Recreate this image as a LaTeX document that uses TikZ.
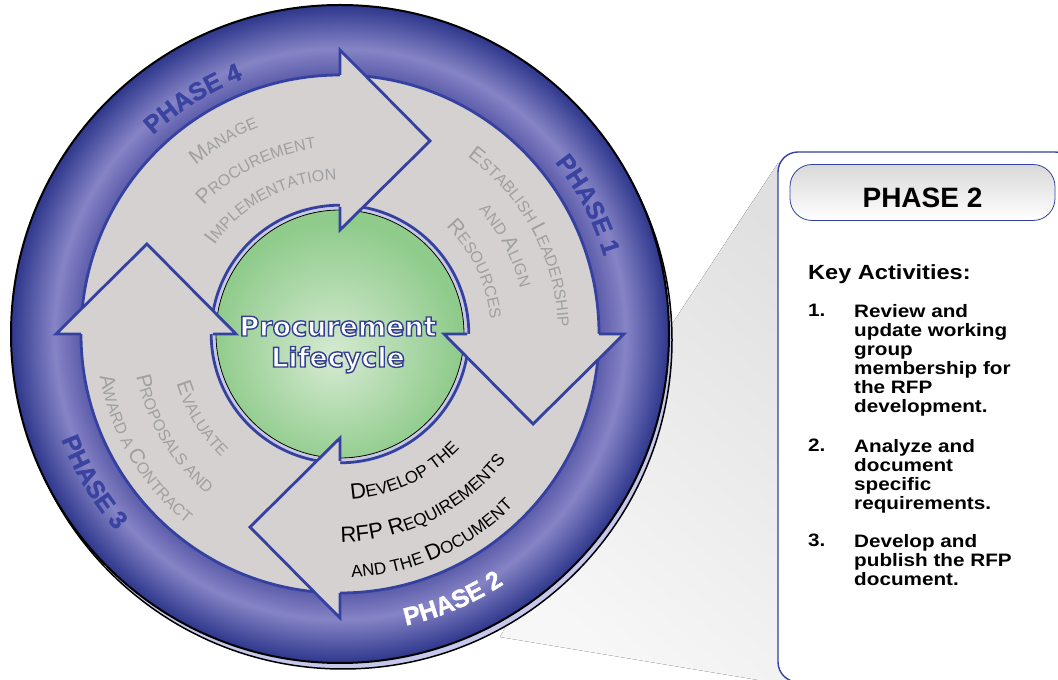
\documentclass[tikz,border=0pt]{standalone}
\usepackage{fontspec}
\setmainfont{Liberation Sans}
\newfontfamily\titlefont{DejaVu Sans}
\newfontfamily\phasebf[FakeBold=1.5]{Liberation Sans Bold}
\newfontfamily\panelfont[FakeStretch=1.15]{Liberation Sans}
\usetikzlibrary{positioning, decorations.text, shadings}

\definecolor{banddark}{RGB}{46,55,140}
\definecolor{bandlight}{RGB}{134,132,198}
\definecolor{bandinner}{RGB}{92,92,170}
\definecolor{ringgray}{RGB}{212,209,208}
\definecolor{ringline}{RGB}{52,65,160}
\definecolor{ringtext}{RGB}{160,160,162}
\definecolor{phaseblue}{RGB}{58,68,160}
\definecolor{rimlav}{RGB}{197,200,234}
\definecolor{greenedge}{RGB}{143,203,139}
\definecolor{greenmid}{RGB}{214,234,210}

\pgfdeclareradialshading{bandshade}{\pgfpointorigin}{color(0bp)=(bandinner); color(19.7bp)=(bandinner); color(21.7bp)=(bandlight); color(25bp)=(banddark); color(50bp)=(banddark)}
\pgfdeclareradialshading{greenshade}{\pgfpoint{-1.5bp}{-4.5bp}}{color(0bp)=(greenmid); color(25bp)=(greenedge); color(50bp)=(greenedge)}

\newcommand\gbig{\fontsize{21}{21}\selectfont}
\newcommand\gsmall{\fontsize{16}{16}\selectfont}
\newcommand\kbig{\fontsize{22}{22}\selectfont}
\newcommand\ksmall{\fontsize{17}{17}\selectfont}
\newcommand\phasefont{\phasebf\fontsize{25}{25}\selectfont}
\newcommand\outlined[1]{\special{pdf:literal direct 2 Tr 1.4 w 0.2 0.25 0.58 RG}#1\special{pdf:literal direct 0 Tr}}

\tikzset{
x=1pt, y=1pt, % one unit is one pixel of the picture
node distance=31pt, % baseline to baseline of the two title lines
arctext/.style={decorate, decoration={text along path, text align=center, text={#1}}}, % text bent along an arc
graylabel/.style={decoration={text color=ringtext}},
blacklabel/.style={decoration={text color=black}},
phaselabel/.style={decoration={text color=#1}},
ringedge/.style={draw=ringline, line width=2.8pt}, % blue edges of the ring and the arrow heads
title/.style={text=white, font=\titlefont\bfseries\fontsize{27}{27}\selectfont, text height=20pt, text depth=6pt, inner sep=0pt},
header/.style={draw=ringline, line width=0.8pt, rounded corners=22pt, minimum width=265pt, minimum height=56pt, top color=black!15, bottom color=white, font=\bfseries\fontsize{28}{28}\selectfont, text height=35pt, text depth=4pt},
listnum/.style={font=\panelfont\bfseries\fontsize{18}{19}\selectfont, anchor=base west, inner sep=0pt},
listtext/.style={font=\panelfont\bfseries\fontsize{18}{19}\selectfont, align=left, anchor=north west, inner sep=0pt},
}

\begin{document}
\begin{tikzpicture}
\useasboundingbox (0,0) rectangle (1058,680);

% zoom wedge and the phase panel
\fill[top color=black!12, bottom color=black!3, shading angle=-40] (778,517) -- (672,356) -- (500,43) -- (830,-12) -- (830,517) -- cycle;
\draw[ringline, line width=1.4pt, fill=white, rounded corners=20pt] (778,-2) rectangle (1075,528);

\begin{scope}[shift={(340,346)}]
  % disc and band
  \fill[rimlav, draw=black, line width=1.5pt] (3,-6) circle[radius=329];
  \path[shade, shading=bandshade, draw=black, line width=2pt] (0,0) circle[radius=329];
  \fill[ringgray] (0,0) circle[radius=259];
  \draw[ringedge] (0,0) circle[radius=259];
  % hub
  \path[shade, shading=greenshade] (0,0) circle[radius=124];
  \draw[black, line width=0.8pt] (0,0) circle[radius=124];
  \draw[rimlav, line width=2pt] (0,0) circle[radius=126];
  \draw[ringline, line width=2.8pt] (0,0) circle[radius=128.8];
  % arrow heads
  \foreach \a in {90,0,-90,180}{
    \fill[ringgray] (\a:284) -- (\a-25:213) -- (\a:104) -- cycle;
    \draw[ringedge] (\a:259) -- (\a:284) -- (\a-25:213) -- (\a:104) -- (\a:127);
  }

  % phase 4
  \path[arctext={|\gbig|M|\gsmall|ANAGE}, graylabel] (151:222) arc[start angle=151, end angle=91, radius=222];
  \path[arctext={|\gbig|P|\gsmall|ROCUREMENT}, graylabel] (152:187) arc[start angle=152, end angle=82, radius=187];
  \path[arctext={|\gbig|I|\gsmall|MPLEMENTATION}, graylabel] (158:154) arc[start angle=158, end angle=78, radius=154];
  % phase 1
  \path[arctext={|\gbig|E|\gsmall|STABLISH |\gbig|L|\gsmall|EADERSHIP}, graylabel] (63:218) arc[start angle=63, end angle=-7, radius=218];
  \path[arctext={|\gsmall|AND |\gbig|A|\gsmall|LIGN}, graylabel] (58:186) arc[start angle=58, end angle=-2, radius=186];
  \path[arctext={|\gbig|R|\gsmall|ESOURCES}, graylabel] (55.5:151) arc[start angle=55.5, end angle=-4.5, radius=151];
  % phase 3
  \path[arctext={|\gbig|E|\gsmall|VALUATE}, graylabel] (-173.5:171) arc[start angle=-173.5, end angle=-123.5, radius=171];
  \path[arctext={|\gbig|P|\gsmall|ROPOSALS AND}, graylabel] (-179:208) arc[start angle=-179, end angle=-119, radius=208];
  \path[arctext={|\gbig|A|\gsmall|WARD A |\gbig|C|\gsmall|ONTRACT}, graylabel] (-179.5:244) arc[start angle=-179.5, end angle=-119.5, radius=244];
  % phase 2
  \path[arctext={|\kbig|D|\ksmall|EVELOP THE}, blacklabel] (-95:166) arc[start angle=-95, end angle=-35, radius=166];
  \path[arctext={|\kbig|RFP R|\ksmall|EQUIREMENTS}, blacklabel] (-98.5:208) arc[start angle=-98.5, end angle=-28.5, radius=208];
  \path[arctext={|\ksmall|AND THE |\kbig|D|\ksmall|OCUMENT}, blacklabel] (-96:244) arc[start angle=-96, end angle=-36, radius=244];

  % phase names in the band
  \path[arctext={|\phasefont|PHASE 4}, phaselabel=phaseblue] (142:273) arc[start angle=142, end angle=102, radius=273];
  \path[arctext={|\phasefont|PHASE 1}, phaselabel=phaseblue] (47.5:275) arc[start angle=47.5, end angle=7.5, radius=275];
  \path[arctext={|\phasefont|PHASE 3}, phaselabel=phaseblue] (-169:298) arc[start angle=-169, end angle=-129, radius=298];
  \path[arctext={|\phasefont|PHASE 2}, phaselabel=white] (-87:299) arc[start angle=-87, end angle=-47, radius=299];
\end{scope}

\node[title, anchor=base] (proc) at (338,344) {\outlined{Procurement}};
\node[title, below of=proc] (life) {\outlined{Lifecycle}};

% phase panel text
\node[header] (phasehead) at (922.5,487.5) {PHASE 2};
\node[font=\panelfont\bfseries\fontsize{20.5}{20.5}\selectfont, anchor=base west, inner sep=0pt] (keyact) at (808,400) {Key Activities:};
\node[listnum] (num1) at (808,363) {1.};
\node[listtext] (item1) at (854,0 |- num1.north) {Review and\\update working\\group\\membership for\\the RFP\\development.};
\node[listnum] (num2) at (808,228) {2.};
\node[listtext] (item2) at (854,0 |- num2.north) {Analyze and\\document\\specific\\requirements.};
\node[listnum] (num3) at (808,133) {3.};
\node[listtext] (item3) at (854,0 |- num3.north) {Develop and\\publish the RFP\\document.};
\end{tikzpicture}
\end{document}
